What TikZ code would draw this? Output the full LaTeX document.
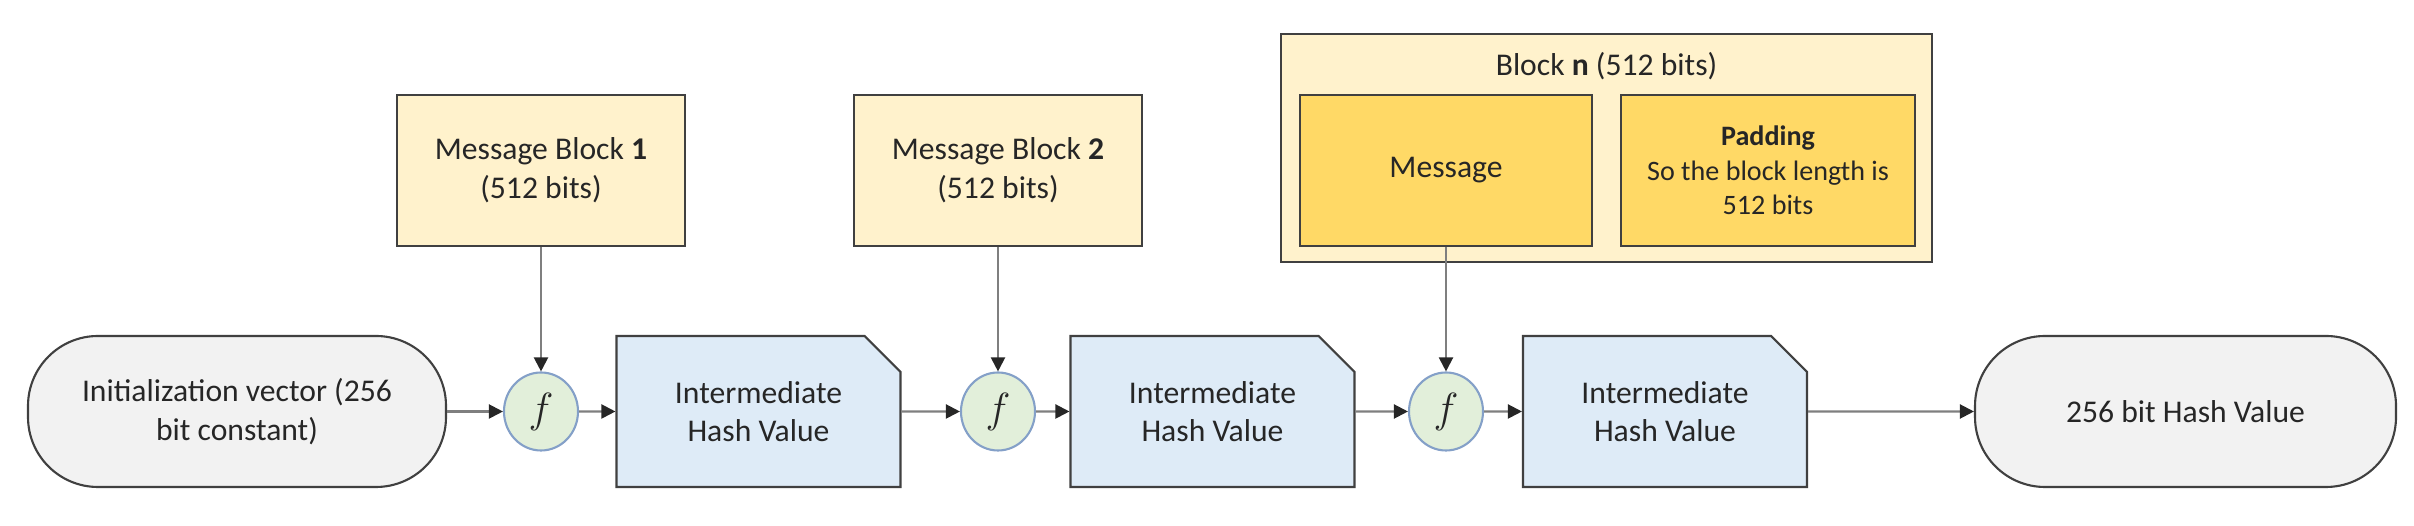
\documentclass[tikz,border=0pt]{standalone}
\usepackage{fontspec}
\setmainfont{Carlito}
\usetikzlibrary{shapes.geometric,shapes.misc,arrows.meta}
\definecolor{capfill}{RGB}{242,242,242}
\definecolor{fgreen}{RGB}{226,239,218}
\definecolor{fedge}{RGB}{132,160,200}
\definecolor{ihvfill}{RGB}{222,235,247}
\definecolor{blkfill}{RGB}{255,242,204}
\definecolor{msgfill}{RGB}{255,217,102}
\definecolor{linecol}{RGB}{64,64,64}
\definecolor{arrcol}{RGB}{127,127,127}

\begin{document}
\begin{tikzpicture}[x=1mm,y=1mm,
  every node/.style={font=\fontsize{9}{11}\selectfont,text=black!85,align=center},
  capsule/.style={draw=linecol,line width=0.6pt,fill=capfill,rounded corners=7mm,minimum height=15.1mm,inner sep=0pt},
  fnode/.style={ellipse,draw=fedge,line width=0.6pt,fill=fgreen,minimum width=7.4mm,minimum height=7.8mm,inner sep=0pt,font=\fontsize{13}{15}\selectfont},
  ihv/.style={chamfered rectangle,chamfered rectangle corners=north east,chamfered rectangle xsep=1.8mm,chamfered rectangle ysep=1.8mm,draw=linecol,line width=0.6pt,fill=ihvfill,minimum width=28.4mm,minimum height=15.1mm,inner sep=0pt},
  mblock/.style={draw=linecol,line width=0.6pt,fill=blkfill,minimum width=28.8mm,minimum height=15.1mm,inner sep=0pt},
  part/.style={draw=linecol,line width=0.6pt,fill=msgfill,minimum width=29.2mm,minimum height=15.1mm,inner sep=0pt},
  flow/.style={draw=arrcol,line width=0.6pt,-{Triangle[length=1.4mm,width=1.4mm,color=black!85]}}]
\useasboundingbox (0,0) rectangle (241.4,52.6);
% chain of compression steps
\node[capsule,minimum width=41.8mm] (iv) at (23.7,11.45) {Initialization vector (256\\bit constant)};
\node[fnode] (f1) at (54.1,11.45) {$f$};
\node[ihv] (h1) at (75.85,11.45) {Intermediate\\Hash Value};
\node[fnode] (f2) at (99.8,11.45) {$f$};
\node[ihv] (h2) at (121.25,11.45) {Intermediate\\Hash Value};
\node[fnode] (f3) at (144.6,11.45) {$f$};
\node[ihv] (h3) at (166.5,11.45) {Intermediate\\Hash Value};
\node[capsule,minimum width=42.1mm] (out) at (218.55,11.45) {256 bit Hash Value};
% message blocks
\node[mblock] (m1) at (54.1,35.55) {Message Block \textbf{1}\\(512 bits)};
\node[mblock] (m2) at (99.8,35.55) {Message Block \textbf{2}\\(512 bits)};
\node[draw=linecol,line width=0.6pt,fill=blkfill,minimum width=65.1mm,minimum height=22.8mm] (bn) at (160.65,37.8) {};
\node (bnt) at (160.65,46.0) {Block \textbf{n} (512 bits)};
\node[part] (msg) at (144.6,35.55) {Message};
\node[part,minimum width=29.4mm,font=\fontsize{8}{9.8}\selectfont] (pad) at (176.8,35.55) {\textbf{Padding}\\So the block length is\\512 bits};
% arrows
\draw[flow] (iv) -- (f1);
\draw[flow] (f1) -- (h1);
\draw[flow] (h1) -- (f2);
\draw[flow] (f2) -- (h2);
\draw[flow] (h2) -- (f3);
\draw[flow] (f3) -- (h3);
\draw[flow] (h3) -- (out);
\draw[flow] (m1) -- (f1);
\draw[flow] (m2) -- (f2);
\draw[flow] (msg) -- (f3);
\end{tikzpicture}
\end{document}
